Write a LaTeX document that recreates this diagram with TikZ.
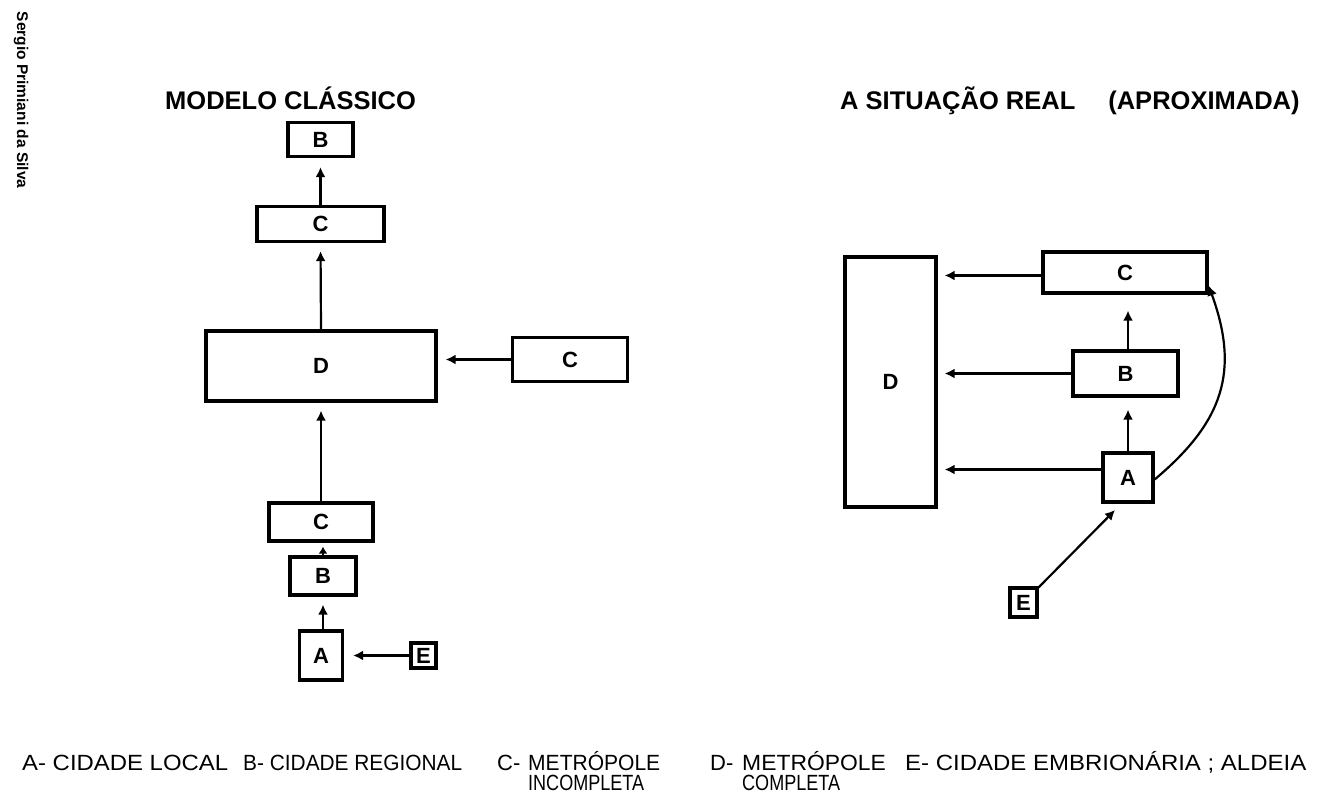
\documentclass[tikz,border=0pt]{standalone}
\usepackage{fontspec}
\setmainfont{Liberation Sans}
\newfontfamily\legfont{Liberation Sans}
\usetikzlibrary{arrows.meta}
\begin{document}
\begin{tikzpicture}[x=1pt,y=-1pt,
 box/.style={draw, line width=3.2pt, inner sep=0pt, font=\bfseries\fontsize{22}{22}\selectfont},
 arr/.style={line width=2.2pt, -{Latex[length=10pt,width=10pt]}},
 ttl/.style={anchor=base west, inner sep=0pt, font=\bfseries\fontsize{25.5}{26}\selectfont},
 leg/.style={anchor=base west, inner sep=0pt, font=\legfont\fontsize{22}{22}\selectfont},
]
\useasboundingbox[fill=white] (0,0) rectangle (1324,794);

% author
\node[rotate=-90, inner sep=0pt, font=\bfseries\fontsize{15.5}{16}\selectfont] (auth) at (21,100) {Sergio Primiani da Silva};

% titles
\node[ttl] (t1) at (165,110) {MODELO CLÁSSICO};
\node[ttl] (t2) at (840,110) {A SITUAÇÃO REAL\hspace{33pt}(APROXIMADA)};

% left diagram
\node[box, minimum width=65pt, minimum height=34pt] (B1) at (320.5,139.5) {B};
\node[box, minimum width=127pt, minimum height=35pt] (C1) at (320.5,224) {C};
\node[box, minimum width=230pt, minimum height=70pt] (D1) at (321,366) {D};
\node[box, minimum width=115pt, minimum height=44pt] (C2) at (570,359.5) {C};
\node[box, minimum width=104pt, minimum height=38pt] (C3) at (321,522) {C};
\node[box, minimum width=66pt, minimum height=38pt] (B2) at (323,576) {B};
\node[box, minimum width=43pt, minimum height=49pt] (A1) at (321,655.5) {A};
\node[box, minimum width=25pt, minimum height=25pt] (E1) at (423.5,655.5) {E};

\draw[arr, shorten >=9pt] (C1.north) -- (B1.south);
\draw[arr, shorten >=8pt] (D1.north) -- (C1.south);
\draw[arr, shorten >=8pt] (C3.north) -- (C3.north |- D1.south);
\draw[line width=2.2pt, -{Latex[length=7pt,width=9pt]}, shorten >=4pt] (B2.north) -- (B2.north |- C3.south);
\draw[arr, shorten >=8pt] (A1.north -| B2.north) -- (B2.south);
\draw[arr, shorten >=8pt] (C2.west) -- (C2.west -| D1.east);
\draw[arr, shorten >=9pt] (E1.west) -- (E1.west -| A1.east);

% right diagram
\node[box, minimum width=91pt, minimum height=250pt] (D2) at (890.5,382) {D};
\node[box, minimum width=164pt, minimum height=41pt] (C4) at (1125,272.5) {C};
\node[box, minimum width=105pt, minimum height=45pt] (B3) at (1125.5,373.5) {B};
\node[box, minimum width=50pt, minimum height=49pt] (A2) at (1128,477.5) {A};
\node[box, minimum width=27pt, minimum height=29pt] (E2) at (1023.5,602.5) {E};

\draw[arr, shorten >=7pt] ([yshift=-3pt]C4.west) -- ([yshift=-3pt]C4.west -| D2.east);
\draw[arr, shorten >=7pt] (B3.west) -- (B3.west -| D2.east);
\draw[arr, shorten >=7pt] ([yshift=8pt]A2.west) -- ([yshift=8pt]A2.west -| D2.east);
\draw[arr, shorten >=12pt] (A2.north) -- (A2.north |- B3.south);
\draw[arr, shorten >=16pt] (B3.north -| A2.north) -- (C4.south -| A2.north);
\draw[arr, shorten >=9pt] ([yshift=-1pt]E2.north east) -- ([xshift=20pt]A2.south west);
\draw[arr] ([yshift=-2pt]A2.east) to[out=40,in=-70,looseness=1.15] ([yshift=9pt]C4.south east);

% legend
\node[leg] (la) at (22,770) {\scalebox{1.087}[1]{A- CIDADE LOCAL}};
\node[leg] (lb) at (243,770) {\scalebox{0.948}[1]{B- CIDADE REGIONAL}};
\node[leg] (lc) at (497,770) {C-};
\node[leg] (lc1) at (528,770) {\scalebox{0.956}[1]{METRÓPOLE}};
\node[leg] (lc2) at (528,790) {\scalebox{0.82}[1]{INCOMPLETA}};
\node[leg] (ld) at (710,770) {D-};
\node[leg] (ld1) at (742,770) {\scalebox{1.04}[1]{METRÓPOLE}};
\node[leg] (ld2) at (742,790) {\scalebox{0.82}[1]{COMPLETA}};
\node[leg] (le) at (905,770) {\scalebox{1.09}[1]{E- CIDADE EMBRIONÁRIA ; ALDEIA}};
\end{tikzpicture}
\end{document}
